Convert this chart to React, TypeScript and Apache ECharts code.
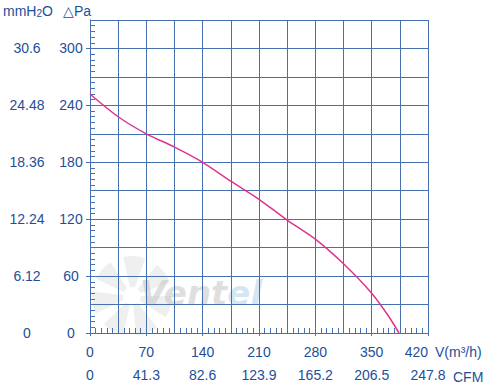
import React, { useEffect, useRef } from "react";
import * as echarts from "echarts";

// Flow (m³/h) and static pressure (Pa)
const flowV = [0, 35, 70, 105, 140, 175, 210, 245, 280, 315, 350, 370, 384];
const pressurePa = [252, 228, 210, 196, 180, 160, 141, 119, 99, 73, 42, 19, 0];

// Tick labels
const paTicks = [0, 60, 120, 180, 240, 300];
const mmH2OLabels = ["0", "6.12", "12.24", "18.36", "24.48", "30.6"];
const flowTicks = [0, 70, 140, 210, 280, 350, 420];
const cfmLabels = ["0", "41.3", "82.6", "123.9", "165.2", "206.5", "247.8"];

const BLUE_TEXT = "#1d4f9a";
const GRID_BLUE = "#4670b0";
const FONT = "Liberation Sans, Arial, sans-serif";

export default function App() {
  const ref = useRef<HTMLDivElement>(null);

  useEffect(() => {
    if (!ref.current) return;
    const chart = echarts.init(ref.current, undefined, { renderer: "svg" });

    const blades: any[] = [];
    for (let i = 0; i < 7; i++) {
      const a = (i * 360) / 7;
      blades.push({
        type: "sector",
        shape: {
          cx: 132,
          cy: 296,
          r: 40,
          r0: 9,
          startAngle: (a * Math.PI) / 180,
          endAngle: ((a + 32) * Math.PI) / 180,
        },
        style: { fill: "#d8d8d8", opacity: 0.4 },
        silent: true,
      });
    }

    chart.setOption({
      animation: false,
      grid: { left: 90, top: 20, width: 338, height: 313, containLabel: false },
      xAxis: [
        {
          type: "value",
          min: 0,
          max: 420,
          interval: 35,
          position: "bottom",
          axisLine: { show: true, lineStyle: { color: GRID_BLUE, width: 1 } },
          axisTick: { show: true, inside: true, length: 5, lineStyle: { color: GRID_BLUE } },
          minorTick: { show: true, splitNumber: 5, length: 5, lineStyle: { color: GRID_BLUE } },
          splitLine: { show: true, lineStyle: { color: GRID_BLUE, width: 1 } },
          axisLabel: {
            show: true,
            margin: 12,
            color: BLUE_TEXT,
            fontSize: 14,
            fontFamily: FONT,
            alignMaxLabel: "right",
            formatter: (v: number) => (flowTicks.indexOf(v) >= 0 ? String(v) : ""),
          },
        },
        {
          type: "value",
          min: 0,
          max: 420,
          interval: 70,
          position: "bottom",
          offset: 28,
          axisLine: { show: true, lineStyle: { color: GRID_BLUE, width: 1 } },
          axisTick: { show: true, inside: false, length: 3, lineStyle: { color: GRID_BLUE } },
          splitLine: { show: false },
          axisLabel: {
            show: true,
            margin: 7,
            color: BLUE_TEXT,
            fontSize: 14,
            fontFamily: FONT,
            formatter: (v: number) => {
              const i = flowTicks.indexOf(v);
              return i >= 0 ? cfmLabels[i] : "";
            },
          },
        },
      ],
      yAxis: [
        {
          type: "value",
          min: 0,
          max: 330,
          interval: 30,
          position: "left",
          axisLine: { show: true, lineStyle: { color: GRID_BLUE, width: 1 } },
          axisTick: { show: true, inside: true, length: 5, lineStyle: { color: GRID_BLUE } },
          minorTick: { show: true, splitNumber: 5, length: 5, lineStyle: { color: GRID_BLUE } },
          splitLine: { show: true, lineStyle: { color: GRID_BLUE, width: 1 } },
          axisLabel: { show: false },
        },
        {
          type: "value",
          min: 0,
          max: 330,
          interval: 60,
          position: "left",
          offset: 35,
          axisLine: { show: true, lineStyle: { color: GRID_BLUE, width: 1 } },
          axisTick: {
            show: true,
            inside: false,
            length: 4,
            customValues: paTicks,
            lineStyle: { color: GRID_BLUE },
          },
          splitLine: { show: false },
          axisLabel: {
            show: true,
            inside: true,
            margin: 16,
            align: "center",
            color: BLUE_TEXT,
            fontSize: 14,
            fontFamily: FONT,
            customValues: paTicks,
            formatter: (v: number) => (paTicks.indexOf(v) >= 0 ? String(v) : ""),
          },
        },
        {
          type: "value",
          min: 0,
          max: 330,
          interval: 60,
          position: "left",
          offset: 35,
          axisLine: { show: false },
          axisTick: { show: false },
          splitLine: { show: false },
          axisLabel: {
            show: true,
            margin: 28,
            align: "center",
            color: BLUE_TEXT,
            fontSize: 14,
            fontFamily: FONT,
            customValues: paTicks,
            formatter: (v: number) => {
              const i = paTicks.indexOf(v);
              return i >= 0 ? mmH2OLabels[i] : "";
            },
          },
        },
      ],
      graphic: [
        ...blades,
        {
          type: "text",
          left: 140,
          top: 276,
          silent: true,
          style: {
            text: "{a|Vent}{b|el}",
            rich: {
              a: {
                fontSize: 34,
                fontWeight: "bold",
                fontStyle: "italic",
                fontFamily: "DejaVu Sans, sans-serif",
                fill: "#c4c4c4",
                opacity: 0.55,
              },
              b: {
                fontSize: 34,
                fontWeight: "bold",
                fontStyle: "italic",
                fontFamily: "DejaVu Sans, sans-serif",
                fill: "#b8d4ee",
                opacity: 0.6,
              },
            },
          },
        },
        {
          type: "text",
          left: 3,
          top: 4,
          style: {
            text: "mmH{s|2}O",
            fill: BLUE_TEXT,
            fontSize: 14,
            fontFamily: FONT,
            rich: { s: { fontSize: 10, fill: BLUE_TEXT, fontFamily: FONT, padding: [5, 0, 0, 0] } },
          },
        },
        {
          type: "text",
          left: 63,
          top: 4,
          style: { text: "△Pa", fill: BLUE_TEXT, fontSize: 14, fontFamily: FONT },
        },
        {
          type: "text",
          left: 435,
          top: 345,
          style: { text: "V(m³/h)", fill: BLUE_TEXT, fontSize: 14, fontFamily: FONT },
        },
        {
          type: "text",
          left: 453,
          top: 370,
          style: { text: "CFM", fill: BLUE_TEXT, fontSize: 14, fontFamily: FONT },
        },
      ],
      series: [
        {
          type: "line",
          xAxisIndex: 0,
          yAxisIndex: 0,
          data: flowV.map((v, i) => [v, pressurePa[i]]),
          smooth: 0.3,
          showSymbol: false,
          symbol: "none",
          lineStyle: { color: "#e0338e", width: 1.5 },
          z: 5,
        },
      ],
    });

    return () => chart.dispose();
  }, []);

  return (
    <div
      ref={ref}
      style={{ position: "fixed", left: 0, top: 0, width: 487, height: 386, background: "#fff" }}
    />
  );
}
